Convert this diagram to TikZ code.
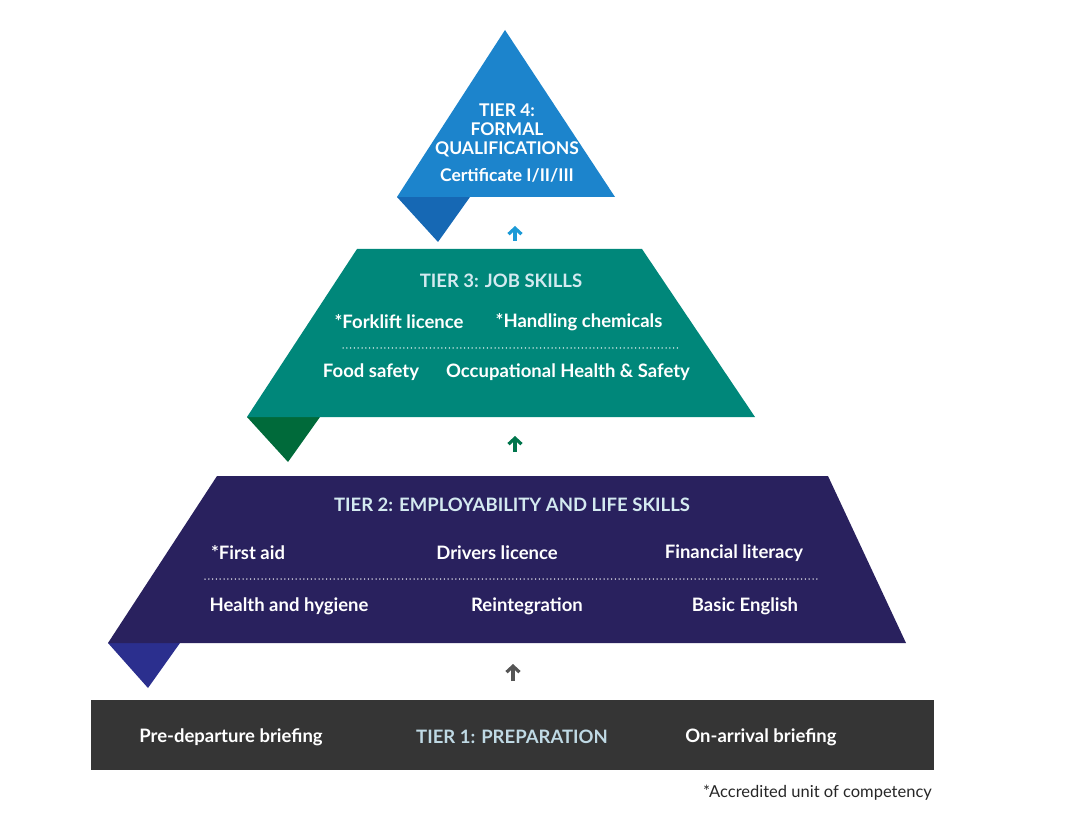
\documentclass[tikz,border=0pt]{standalone}
\usepackage{fontspec}
\setmainfont{Lato}
\usetikzlibrary{arrows.meta,positioning}
\definecolor{tierfour}{HTML}{1C84CC}
\definecolor{tierfourdk}{HTML}{1668B4}
\definecolor{tierthree}{HTML}{00877A}
\definecolor{tierthreedk}{HTML}{006A3A}
\definecolor{tiertwo}{HTML}{29215E}
\definecolor{tiertwodk}{HTML}{2B2F8E}
\definecolor{tierone}{HTML}{353535}
\definecolor{titlelight}{HTML}{D4EAF0}
\definecolor{titleone}{HTML}{BFD9E4}
\definecolor{arrowfour}{HTML}{1C9AD6}
\definecolor{arrowthree}{HTML}{00754C}
\definecolor{arrowtwo}{HTML}{555555}

\begin{document}
\begin{tikzpicture}[x=1pt, y=-1pt,
    lbl/.style={text=white, font=\bfseries\fontsize{18.5}{20}\selectfont, inner sep=0pt},
    ttl/.style={lbl, text=titlelight},
    dots/.style={white, line width=1.5pt, dash pattern=on 0pt off 3.8pt, line cap=round},
    uparr/.style={-{Straight Barb[length=6pt,width=13pt]}, line width=3.2pt}
]
\useasboundingbox (0,0) rectangle (1090,818);

% tier 4
\fill[tierfourdk] (397,197) -- (470,197) -- (438,242) -- cycle;
\fill[tierfour] (505,30) -- (615,197) -- (397,197) -- cycle;
\node[lbl, align=center, font=\bfseries\fontsize{17.5}{19}\selectfont] (t4) at (507,130) {TIER 4:\\FORMAL\\QUALIFICATIONS};
\node[lbl, font=\bfseries\fontsize{17.5}{19}\selectfont] (cert) at (507,175) {Certificate I/II/III};

\coordinate (a4s) at (515,241);
\coordinate (a4e) at (515,226);
\draw[uparr, arrowfour] (a4s) -- (a4e);

% tier 3
\fill[tierthreedk] (247,417) -- (320,417) -- (288,462) -- cycle;
\fill[tierthree] (357,249) -- (642,249) -- (755,417) -- (247,417) -- cycle;
\node[ttl] (t3) at (501,281) {TIER 3: JOB SKILLS};
\node[lbl] (fork) at (399,322) {*Forklift licence};
\node[lbl] (chem) at (579,322) {*Handling chemicals};
\draw[dots] (343,348) -- (680,348);
\node[lbl] (food) at (371,372) {Food safety};
\node[lbl] (ohs) at (568,372) {Occupational Health \& Safety};

\coordinate (a3s) at (515,452);
\coordinate (a3e) at (515,436);
\draw[uparr, arrowthree] (a3s) -- (a3e);

% tier 2
\fill[tiertwodk] (108,643) -- (180,643) -- (148,688) -- cycle;
\fill[tiertwo] (217,476) -- (828,476) -- (906,643) -- (108,643) -- cycle;
\node[ttl] (t2) at (512,505) {TIER 2: EMPLOYABILITY AND LIFE SKILLS};
\node[lbl] (aid) at (248,553) {*First aid};
\node[lbl] (drive) at (497,553) {Drivers licence};
\node[lbl] (money) at (734,553) {Financial literacy};
\draw[dots] (205,579) -- (818,579);
\node[lbl] (hyg) at (289,606) {Health and hygiene};
\node[lbl] (reint) at (527,606) {Reintegration};
\node[lbl] (eng) at (745,606) {Basic English};

\coordinate (a2s) at (513,681);
\coordinate (a2e) at (513,664);
\draw[uparr, arrowtwo] (a2s) -- (a2e);

% tier 1
\fill[tierone] (91,700) rectangle (934,770);
\node[lbl] (pre) at (231,737) {Pre-departure briefing};
\node[lbl, text=titleone] (t1) at (512,737) {TIER 1: PREPARATION};
\node[lbl] (post) at (761,737) {On-arrival briefing};

\node[anchor=east, inner sep=0pt, text=black!85, font=\fontsize{16.5}{18}\selectfont] (note) at (932,793) {*Accredited unit of competency};
\end{tikzpicture}
\end{document}
